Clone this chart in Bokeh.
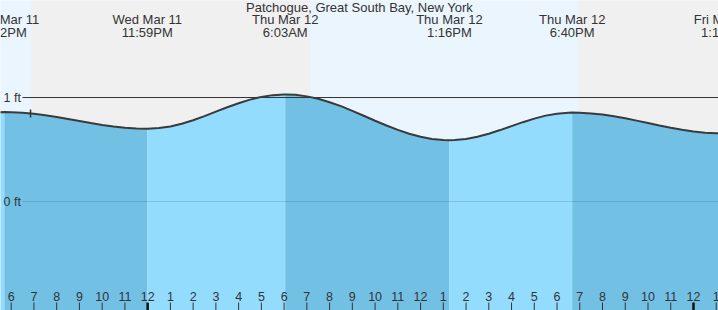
from bokeh.plotting import figure
from bokeh.embed import file_html
from bokeh.resources import INLINE
from bokeh.core.properties import value
from bokeh.models import Range1d

TITLE = "Patchogue, Great South Bay, New York"

# hours counted from Wed Mar 11 00:00, heights in ft
tide_hours = [17, 17.5, 17.70, 18, 18.5, 19, 19.5, 20, 20.5, 21, 21.5, 22, 22.5, 23, 23.5,
              23.983, 24, 24.5, 25, 25.5, 26, 26.5, 27, 27.5, 28, 28.5, 29, 29.5, 30, 30.05,
              30.5, 31, 31.5, 32, 32.5, 33, 33.5, 34, 34.5, 35, 35.5, 36, 36.5, 37, 37.267,
              37.5, 38, 38.5, 39, 39.5, 40, 40.5, 41, 41.5, 42, 42.5, 42.667, 43, 43.5, 44,
              44.5, 45, 45.5, 46, 46.5, 47, 47.5, 48, 48.5, 49, 49.317, 49.5, 50]
tide_ft = [0.854, 0.859, 0.860, 0.859, 0.854, 0.844, 0.830, 0.813, 0.794, 0.774, 0.754,
           0.736, 0.721, 0.709, 0.702,
           0.700, 0.700, 0.706, 0.722, 0.748, 0.782, 0.821, 0.864, 0.906, 0.945, 0.980,
           1.006, 1.023, 1.030, 1.030,
           1.026, 1.011, 0.988, 0.955, 0.917, 0.872, 0.825, 0.777, 0.731, 0.689, 0.652,
           0.622, 0.602, 0.591, 0.590,
           0.591, 0.602, 0.623, 0.652, 0.687, 0.725, 0.763, 0.797, 0.826, 0.845, 0.854,
           0.855, 0.854, 0.847, 0.836,
           0.820, 0.800, 0.778, 0.755, 0.731, 0.709, 0.690, 0.674, 0.662, 0.656, 0.655,
           0.656, 0.662]

extreme_hours = [17.70, 23.983, 30.05, 37.267, 42.667, 49.317]
extreme_kind = ["high", "low", "high", "low", "high", "low"]
extreme_day = ["Wed Mar 11", "Wed Mar 11", "Thu Mar 12", "Thu Mar 12", "Thu Mar 12", "Fri Mar 13"]
extreme_time = ["5:42PM", "11:59PM", "6:03AM", "1:16PM", "6:40PM", "1:19AM"]

sun_hours = [18.893, 31.162, 42.948]   # sunset, sunrise, sunset
now_hour = 18.85
now_ft = 0.847

hour_ticks = list(range(17, 51))
level_ft = [1, 0]
level_labels = ["1 ft", "0 ft"]

# ---- layout ----
W, H = 718, 310
X0, X1 = 17.53, 49.10
Y0, Y1 = -1.048, 1.933
pxh = W / (X1 - X0)
SHIFT = 4  # text baseline correction in px


def ypx(py):
    return Y1 - py * (Y1 - Y0) / H


def xpx(px):
    return X0 + px / pxh


FONT = value("Liberation Sans")
TXT = "#333333"
DAY = "#ebf5fe"
NIGHT = "#f0f0f0"
RISE = "#94dcfe"
FALL = "#72c1e5"

p = figure(width=W, height=H, x_range=Range1d(X0, X1), y_range=Range1d(Y0, Y1),
           output_backend="svg", toolbar_location=None, min_border=0)
p.axis.visible = False
p.grid.visible = False
p.outline_line_color = None
p.background_fill_color = DAY
p.border_fill_color = DAY

# day / night
bounds = [X0 - 5] + sun_hours + [X1 + 5]
for i in range(len(bounds) - 1):
    col = DAY if i % 2 == 0 else NIGHT
    p.quad(left=bounds[i], right=bounds[i + 1], bottom=Y0 - 1, top=Y1 + 1,
           fill_color=col, line_color=None)

# tide bands (rising = light, falling = dark)
eb = [-1e9] + extreme_hours + [1e9]
kinds = extreme_kind + ["high" if extreme_kind[-1] == "low" else "low"]
for i in range(len(eb) - 1):
    a, b = eb[i], eb[i + 1]
    xs = [t for t in tide_hours if a <= t <= b]
    ys = [h for t, h in zip(tide_hours, tide_ft) if a <= t <= b]
    if len(xs) < 2:
        continue
    col = RISE if kinds[i] == "high" else FALL
    p.varea(x=xs, y1=[Y0 - 1] * len(xs), y2=ys, fill_color=col)

# level lines
p.segment(x0=[xpx(22)], y0=[level_ft[0]], x1=[X1 + 1], y1=[level_ft[0]],
          line_color="#333333", line_width=1)
p.segment(x0=[xpx(22)], y0=[level_ft[1]], x1=[X1 + 1], y1=[level_ft[1]],
          line_color="#000000", line_alpha=0.13, line_width=1)
cap = (4.5 - SHIFT) * (Y1 - Y0) / H
p.text(x=[xpx(3)] * 2, y=[l - cap for l in level_ft], text=level_labels,
       text_font=FONT, text_font_size="12.5px", text_color=TXT,
       text_align="left", text_baseline="alphabetic")

# tide curve
p.line(tide_hours, tide_ft, line_color="#3a3a3a", line_width=2)

# now marker
d = 4 * (Y1 - Y0) / H
p.segment(x0=[now_hour], y0=[now_ft - d], x1=[now_hour], y1=[now_ft + d],
          line_color="#333333", line_width=1.5)

# hour ticks
reg = [h for h in hour_ticks if h % 24 != 0]
mid = [h for h in hour_ticks if h % 24 == 0]
p.segment(x0=reg, y0=[ypx(302)] * len(reg), x1=reg, y1=[ypx(311)] * len(reg),
          line_color="#333333", line_width=1)
p.segment(x0=mid, y0=[ypx(302)] * len(mid), x1=mid, y1=[ypx(311)] * len(mid),
          line_color="#111111", line_width=2.5)
labels = [str(h % 12 if h % 12 else 12) for h in hour_ticks]
p.text(x=hour_ticks, y=[ypx(300 - SHIFT)] * len(hour_ticks), text=labels,
       text_font=FONT, text_font_size="12.5px", text_color=TXT,
       text_align="center", text_baseline="alphabetic")

# extreme labels
p.text(x=extreme_hours, y=[ypx(22.5 - SHIFT)] * len(extreme_hours), text=extreme_day,
       text_font=FONT, text_font_size="13px", text_color=TXT,
       text_align="center", text_baseline="alphabetic")
p.text(x=extreme_hours, y=[ypx(36 - SHIFT)] * len(extreme_hours), text=extreme_time,
       text_font=FONT, text_font_size="13px", text_color=TXT,
       text_align="center", text_baseline="alphabetic")

# title
p.text(x=[(X0 + X1) / 2], y=[ypx(10.5 - SHIFT)], text=[TITLE],
       text_font=FONT, text_font_size="13px", text_color=TXT,
       text_align="center", text_baseline="alphabetic")

open("out.html", "w").write(file_html(p, INLINE))
